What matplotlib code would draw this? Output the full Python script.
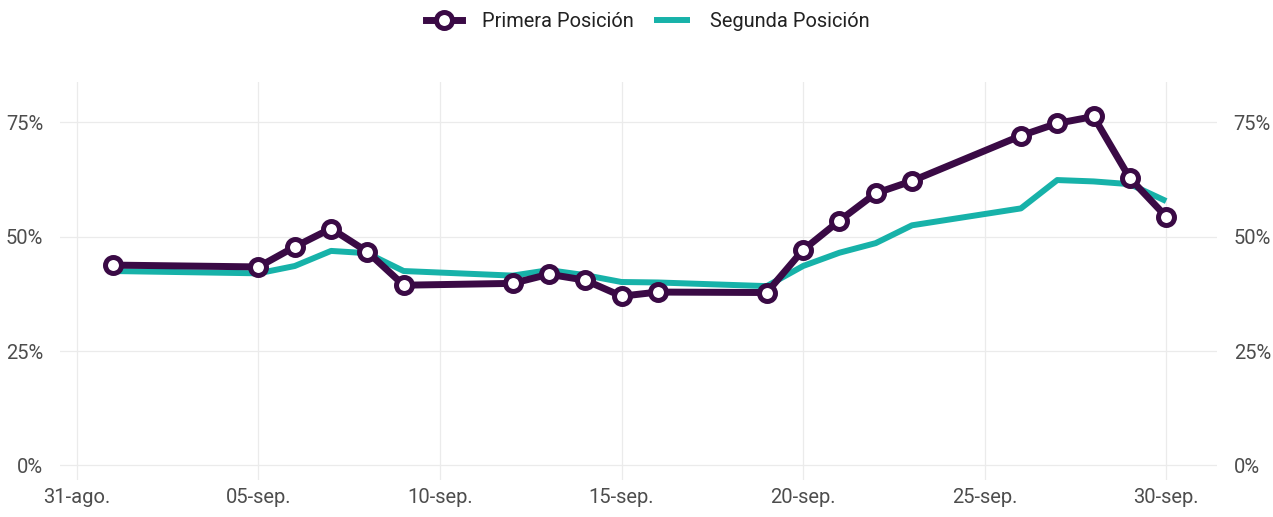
import numpy as np
import pandas as pd
import matplotlib
matplotlib.use("Agg")
import matplotlib.pyplot as plt

# data
dates = ["2023-09-01", "2023-09-05", "2023-09-06", "2023-09-07", "2023-09-08",
         "2023-09-09", "2023-09-12", "2023-09-13", "2023-09-14", "2023-09-15",
         "2023-09-16", "2023-09-19", "2023-09-20", "2023-09-21", "2023-09-22",
         "2023-09-23", "2023-09-26", "2023-09-27", "2023-09-28", "2023-09-29",
         "2023-09-30"]
primera = [43.8, 43.4, 47.8, 51.8, 46.7, 39.4, 39.8, 41.8, 40.5, 37.0,
           37.9, 37.8, 47.1, 53.5, 59.5, 62.2, 72.1, 74.8, 76.3, 62.8, 54.4]
segunda = [42.5, 42.0, 43.6, 46.9, 46.4, 42.5, 41.5, 42.7, 41.6, 40.1,
           40.0, 39.2, 43.6, 46.5, 48.6, 52.5, 56.2, 62.4, 62.1, 61.5, 57.8]

tick_dates = ["2023-08-31", "2023-09-05", "2023-09-10", "2023-09-15",
              "2023-09-20", "2023-09-25", "2023-09-30"]
tick_labels = ["31-ago.", "05-sep.", "10-sep.", "15-sep.", "20-sep.", "25-sep.", "30-sep."]
y_ticks = [0, 25, 50, 75]

c_prim = "#3a0a45"
c_seg = "#17b2a9"
grid_c = "#ebebeb"
txt_c = "#4d4d4d"
fs = 14.5

plt.rcParams["font.family"] = ["Roboto", "DejaVu Sans"]

x = pd.to_datetime(dates)
xt = pd.to_datetime(tick_dates)

fig = plt.figure(figsize=(12.73, 5.17), dpi=100)
ax = fig.add_axes([0.047, 0.0716, 0.909, 0.7694])

ax.plot(x, segunda, color=c_seg, lw=4.3, solid_capstyle="butt", label="Segunda Posición", zorder=2)
ax.plot(x, primera, color=c_prim, lw=5, marker="o", ms=11.5, mfc="white", mec=c_prim, mew=3.6,
        label="Primera Posición", zorder=3)

x0 = pd.Timestamp("2023-08-31") - pd.Timedelta(days=0.47)
x1 = pd.Timestamp("2023-08-31") + pd.Timedelta(days=31.4)
ax.set_xlim(x0, x1)
ax.set_ylim(-3.2, 83.8)

ax.set_xticks(xt)
ax.set_xticklabels(tick_labels)
ax.set_yticks(y_ticks)
ax.set_yticklabels([f"{v}%" for v in y_ticks])

ax.grid(True, color=grid_c, lw=0.9)
ax.set_axisbelow(True)
for s in ax.spines.values():
    s.set_visible(False)
ax.tick_params(axis="both", length=0, labelsize=fs, labelcolor=txt_c)
ax.tick_params(axis="y", pad=12)
ax.tick_params(axis="x", pad=6)

ax2 = ax.twinx()
ax2.set_ylim(ax.get_ylim())
ax2.set_yticks(y_ticks)
ax2.set_yticklabels([f"{v}%" for v in y_ticks])
ax2.tick_params(axis="y", length=0, labelsize=fs, labelcolor=txt_c, pad=12)
for s in ax2.spines.values():
    s.set_visible(False)

h, l = ax.get_legend_handles_labels()
fig.legend(h[::-1], l[::-1], loc="center", bbox_to_anchor=(0.509, 0.959), ncol=2, frameon=False,
           fontsize=14.4, handlelength=1.8, columnspacing=1.0, handletextpad=1.0,
           labelcolor="#222222")

fig.savefig("out.png", dpi=100)
